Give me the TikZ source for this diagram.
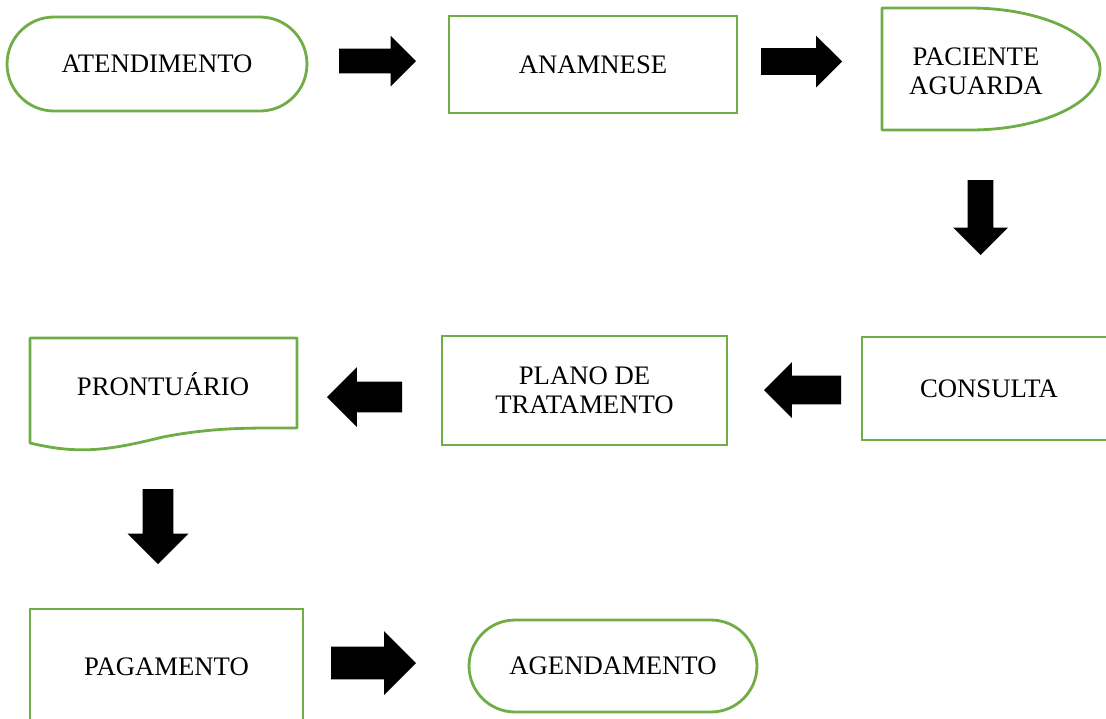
\documentclass[tikz,border=0pt]{standalone}
\usepackage{fontspec}
\setmainfont{Liberation Serif}
\usetikzlibrary{shapes.arrows}
\definecolor{boxgreen}{RGB}{112,173,71}
\tikzset{
  box/.style={draw=boxgreen, line width=1.6pt, inner sep=0pt, align=center,
    font=\fontsize{15.2}{16.5}\selectfont},
  label/.style={inner sep=0pt, align=center, font=\fontsize{15.2}{16.5}\selectfont},
  outline/.style={draw=boxgreen, line width=1.6pt, line join=round},
  blockarrow/.style n args={3}{single arrow, fill=black, draw=none, outer sep=0pt,
    inner sep=#2*0.01cm, single arrow head extend=(#3-#2)*0.01cm,
    minimum height=#1*0.02cm, anchor=tail}
}
\begin{document}
\begin{tikzpicture}[x=0.02cm,y=-0.02cm]
      \useasboundingbox (0,0) rectangle (1106,718);
      \clip (0,0) rectangle (1106,718);
      \node[box, rounded corners=0.94cm, minimum width=6cm, minimum height=1.88cm]
        (atend) at (157,64) {ATENDIMENTO};
      \node[box, minimum width=5.76cm, minimum height=1.94cm]
        (anam) at (593,64.5) {ANAMNESE};
      \node[label] (aguarda) at (976,71) {PACIENTE\\AGUARDA};
      \draw[outline] (882,8) -- (970,8)
        .. controls (1041.8,8) and (1100,35.3) .. (1100,69)
        .. controls (1100,102.7) and (1041.8,130) .. (970,130)
        -- (882,130) -- cycle;
      \node[box, minimum width=5.08cm, minimum height=2.06cm]
        (consulta) at (989,388.5) {CONSULTA};
      \node[box, minimum width=5.7cm, minimum height=2.18cm]
        (plano) at (584.5,390.5) {PLANO DE\\TRATAMENTO};
      \node[label] (pront) at (163,384) {PRONTUÁRIO};
      \draw[outline] (30,338) -- (297,338) -- (297,428)
        .. controls (252,428) and (215,427) .. (163,437)
        .. controls (110,450) and (80,455) .. (30,443) -- cycle;
      \node[box, minimum width=5.46cm, minimum height=2.32cm]
        (pagam) at (166.5,667) {PAGAMENTO};
      \node[box, rounded corners=0.92cm, minimum width=5.76cm, minimum height=1.84cm]
        (agend) at (613,666) {AGENDAMENTO};
      \begin{scope}
        \node[blockarrow={77}{24}{50}] (a1) at (339,61) {};
        \node[blockarrow={81}{26}{51}] (a2) at (761,61.5) {};
        \node[blockarrow={75}{25}{54}, rotate=-90] (a3) at (980.5,180) {};
        \node[blockarrow={77}{28}{55}, rotate=180] (a4) at (841,390) {};
        \node[blockarrow={75}{30}{59}, rotate=180] (a5) at (402,397) {};
        \node[blockarrow={75}{30}{60}, rotate=-90] (a6) at (158,489) {};
        \node[blockarrow={85}{32}{63}] (a7) at (331,663) {};
      \end{scope}
    \end{tikzpicture}
\end{document}
